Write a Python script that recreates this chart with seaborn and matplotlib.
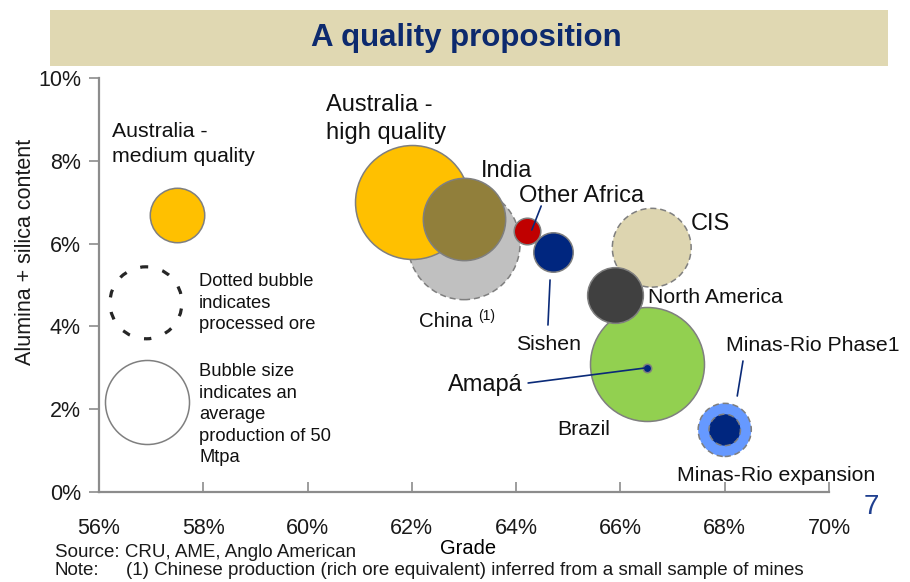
import matplotlib
matplotlib.use("Agg")
import matplotlib.pyplot as plt
import seaborn as sns
import pandas as pd
from matplotlib.patches import Rectangle
from matplotlib.ticker import FuncFormatter

sns.set_theme(style="white")
plt.rcParams['font.family'] = ['Liberation Sans', 'DejaVu Sans']

# ---- data: iron ore producers (drawing order back to front) ----
names = ["China", "Australia - high quality", "India", "Australia - medium quality",
         "Other Africa", "Sishen", "Brazil", "Amapá", "CIS", "North America",
         "Minas-Rio expansion", "Minas-Rio Phase1"]
grade = [63.0, 62.0, 63.0, 57.5, 64.2, 64.7, 66.5, 66.5, 66.6, 65.9, 68.0, 68.0]        # Fe %
impurity = [6.0, 7.0, 6.6, 6.7, 6.3, 5.8, 3.1, 3.0, 5.9, 4.75, 1.5, 1.5]                # alumina + silica %
production = [89, 92, 48, 21, 5, 11, 92, 0.5, 44, 22, 20, 7]                           # Mtpa
colors = ["#C0C0C0", "#FFC000", "#917F3B", "#FFC000", "#C00000", "#00267F",
          "#92D050", "#00267F", "#DDD5B0", "#404040", "#6699FF", "#00267F"]
processed = [True, False, False, False, False, False, False, False, True, False, True, True]

x_ticks = [56, 58, 60, 62, 64, 66, 68, 70]
y_ticks = [0, 2, 4, 6, 8, 10]

# label anchors (left edge, vertical centre) in data units
label_text = ["Australia -\nmedium quality", "Australia -\nhigh quality", "India", "Other Africa",
              "CIS", "North America", "China", "Sishen", "Amapá", "Brazil",
              "Minas-Rio Phase1", "Minas-Rio expansion"]
label_x = [56.25, 60.35, 63.33, 64.06, 67.34, 66.53, 62.14, 64.0, 62.69, 64.78, 68.02, 67.08]
label_y = [8.41, 9.01, 7.75, 7.15, 6.47, 4.71, 4.13, 3.575, 2.585, 1.52, 3.55, 0.41]
label_size = [15.3, 17, 17, 17, 17, 15.3, 14.8, 15.3, 17, 15.3, 15.3, 15.3]

df = pd.DataFrame({"name": names, "grade": grade, "impurity": impurity,
                   "production": production, "processed": processed})
palette = dict(zip(names, colors))

# marker area in pt^2 proportional to production: 50 Mtpa -> ~60 pt diameter
AREA_PER_MTPA = 73.2
size_kw = dict(size="production", sizes=(0, AREA_PER_MTPA * 100), size_norm=(0, 100))

fig = plt.figure(figsize=(9.1, 5.82), dpi=100)
ax = fig.add_axes([0.1088, 0.1546, 0.8022, 0.7114])

edge = "#7F7F7F"
for i, row in df.iterrows():
    sub = df.iloc[[i]]
    sns.scatterplot(data=sub, x="grade", y="impurity", hue="name", palette=palette,
                    ax=ax, legend=False, edgecolor=edge, linewidth=1.1,
                    linestyle=(0, (4, 2.5)) if row["processed"] else "solid",
                    zorder=3 + i, **size_kw)

# explanatory bubbles
legend_df = pd.DataFrame({"grade": [56.90, 56.92], "impurity": [4.57, 2.17],
                          "production": [36.7, 50]})
sns.scatterplot(data=legend_df.iloc[[0]], x="grade", y="impurity", ax=ax, legend=False,
                color="none", edgecolor="#262626", linewidth=2.3,
                linestyle=(0.8, (2.5, 4.6)), zorder=3, **size_kw)
sns.scatterplot(data=legend_df.iloc[[1]], x="grade", y="impurity", ax=ax, legend=False,
                color="white", edgecolor=edge, linewidth=1.1, zorder=3, **size_kw)

txt = "#111111"
ax.text(57.92, 4.565, "Dotted bubble\nindicates\nprocessed ore", fontsize=13.2, color=txt,
        ha="left", va="center", linespacing=1.35)
ax.text(57.92, 1.87, "Bubble size\nindicates an\naverage\nproduction of 50\nMtpa", fontsize=13.2,
        color=txt, ha="left", va="center", linespacing=1.35)

for t, lx, ly, fs in zip(label_text, label_x, label_y, label_size):
    ax.text(lx, ly, t, fontsize=fs, color=txt, ha="left", va="center", linespacing=1.38,
            zorder=20)
ax.text(63.27, 4.26, "(1)", fontsize=10, color=txt, ha="left", va="center", zorder=20)

# leader lines
navy = "#0A2A78"
leaders = [((64.48, 6.908), (64.30, 6.329)),
           ((64.65, 5.121), (64.61, 4.034)),
           ((64.23, 2.633), (grade[7], impurity[7])),
           ((68.35, 3.164), (68.24, 2.319))]
for (x0, y0), (x1, y1) in leaders:
    ax.annotate("", xy=(x1, y1), xytext=(x0, y0),
                arrowprops=dict(arrowstyle="-", color=navy, lw=1.2, shrinkA=0, shrinkB=0),
                zorder=25)

ax.set_xlim(56, 70)
ax.set_ylim(0, 10)
ax.set_xticks(x_ticks)
ax.set_yticks(y_ticks)
ax.xaxis.set_major_formatter(FuncFormatter(lambda v, p: f"{v:.0f}%"))
ax.yaxis.set_major_formatter(FuncFormatter(lambda v, p: f"{v:.0f}%"))
ax.set_xlabel("")
ax.set_ylabel("")

sns.despine(ax=ax)
axis_col = "#8C8C8C"
for s in ("left", "bottom"):
    ax.spines[s].set_color(axis_col)
    ax.spines[s].set_linewidth(1.6)
ax.tick_params(axis="x", direction="in", length=7, width=1.2, color=axis_col,
               pad=19, labelsize=15.5, labelcolor="#1A1A1A", bottom=True)
ax.tick_params(axis="y", direction="out", length=7, width=1.2, color=axis_col,
               pad=6, labelsize=15.5, labelcolor="#1A1A1A", left=True)

# title band
fig.patches.append(Rectangle((0.055, 0.8866), 0.921, 0.0962, transform=fig.transFigure,
                             facecolor="#E0D8B2", edgecolor="none", zorder=0))
fig.text(0.512, 0.9347, "A quality proposition", fontsize=22.5, fontweight="bold",
         color="#0D2A6E", ha="center", va="center")

fig.text(0.0275, 0.567, "Alumina + silica content", rotation=90, fontsize=15.5,
         color="#1A1A1A", ha="center", va="center")
fig.text(0.514, 0.0584, "Grade", fontsize=14.5, color="#000000", ha="center", va="center")
fig.text(0.0604, 0.0515, "Source: CRU, AME, Anglo American", fontsize=13.5, color="#1A1A1A",
         ha="left", va="center")
fig.text(0.0604, 0.0206, "Note:", fontsize=13.5, color="#1A1A1A", ha="left", va="center")
fig.text(0.1385, 0.0206,
         "(1) Chinese production (rich ore equivalent) inferred from a small sample of mines",
         fontsize=13.5, color="#1A1A1A", ha="left", va="center")
fig.text(0.958, 0.129, "7", fontsize=20, color="#1F3F8F", ha="center", va="center")

fig.savefig("out.png", dpi=100)
